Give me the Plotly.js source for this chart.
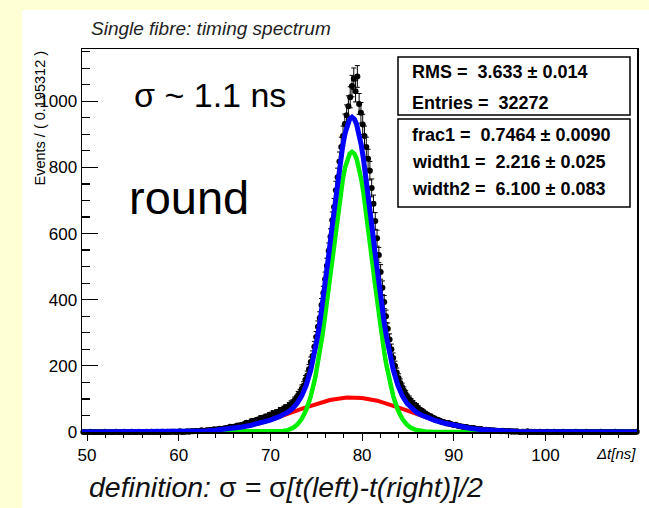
<!DOCTYPE html>
<html>
<head>
<meta charset="utf-8">
<script src="https://cdn.plot.ly/plotly-3.0.1.min.js"></script>
<style>html,body{margin:0;padding:0;background:#ffffd5;}#chart{width:649px;height:508px;}</style>
</head>
<body>
<div id="chart"></div>
<script>
// ---- data ----
const binLow = 49.5;
const binWidth = 0.195312;
const counts = [
0,0,0,0,1,0,0,0,0,0,
0,0,1,0,0,0,0,0,1,0,
0,0,0,1,0,0,0,1,0,0,
0,1,0,0,0,1,0,0,1,0,
0,1,0,0,1,0,0,1,0,1,
1,1,0,1,2,0,1,1,2,1,
2,2,2,3,2,3,5,3,4,5,
5,6,6,8,7,8,10,9,10,11,
12,13,16,15,16,17,20,19,21,22,
24,28,27,29,33,31,35,37,38,42,
40,44,47,45,52,50,57,55,60,58,
66,63,70,74,72,80,85,88,96,101,
112,118,131,140,158,171,190,212,230,258,
287,318,345,384,420,462,503,548,590,640,
680,731,770,818,862,895,931,958,985,1012,
1046,
1068,1030,1075,992,965,930,895,862,826,790,
738,690,638,586,535,484,436,393,350,312,
280,250,224,200,180,163,148,136,125,115,
104,99,92,86,80,77,71,66,63,59,
55,52,48,47,43,41,38,36,34,31,
30,28,26,27,24,23,21,22,19,18,
17,16,14,15,13,12,11,12,10,9,
8,9,7,6,7,5,6,4,5,4,
4,3,2,4,3,2,2,3,1,2,
1,2,1,0,1,1,0,2,0,1,
0,1,0,0,1,0,0,0,1,0,
0,0,1,0,0,0,0,1,0,0,
0,0,0,0,1,0,0,0,0,0,
1,0,0,0,0,0,0,0,1,0,
0,0,0,0,0,0,1,0,0,0,
0,0,0,0,0,0,0,0,1
];

const curveX = [49.45,53.9,56.9,58.9,60.9,61.9,62.9,63.9,64.9,65.9,66.9,67.9,68.9,69.9,70.9,
71.4,71.9,72.4,72.9,73.4,73.9,74.4,
74.9,75.15,75.4,75.65,75.9,76.15,76.4,76.65,76.9,77.15,77.4,77.65,77.9,78.15,78.4,78.65,
78.9,
79.15,79.4,79.65,79.9,80.15,80.4,80.65,80.9,81.15,81.4,81.65,81.9,82.15,82.4,82.65,82.9,
83.4,83.9,84.4,84.9,85.4,85.9,86.4,
86.9,87.9,88.9,89.9,90.9,91.9,92.9,93.9,94.9,95.9,96.9,98.9,100.9,103.9,110];

const narrowGauss = [0,0,0,0,0,0,0,0,0,0,0,0,0,0.2,1.3,
2.8,5.8,11.5,21.7,38.9,66.5,107.8,
166.2,202.4,243.4,289.1,338.8,392.3,448.4,506.0,563.8,620.3,673.9,722.7,765.3,800.1,826.0,841.9,
847.3,
841.9,826.0,800.1,765.3,722.7,673.9,620.3,563.8,506.0,448.4,392.3,338.8,289.1,243.4,202.4,166.2,
107.8,66.5,38.9,21.7,11.5,5.8,2.8,
1.3,0.2,0,0,0,0,0,0,0,0,0,0,0,0,0];

const wideGauss = [0,0.02,0.16,0.49,1.34,2.15,3.35,5.08,7.5,10.79,15.09,20.56,27.26,35.2,44.2,
49.1,54.1,59.2,64.4,69.6,74.7,79.6,
84.3,86.5,88.6,90.7,92.6,94.4,96.1,97.6,99.0,100.3,101.4,102.3,103.1,103.7,104.1,104.4,
104.5,
104.4,104.1,103.7,103.1,102.3,101.4,100.3,99.0,97.6,96.1,94.4,92.6,90.7,88.6,86.5,84.3,
79.6,74.7,69.6,64.4,59.2,54.1,49.1,
44.2,35.2,27.26,20.56,15.09,10.79,7.5,5.08,3.35,2.15,1.34,0.49,0.16,0.02,0];

const totalFit = [0,0.02,0.16,0.49,1.34,2.15,3.35,5.08,7.5,10.79,15.09,20.56,27.26,35.4,45.5,
51.9,59.9,70.7,86.1,108.5,141.2,187.4,
250.5,288.9,332.0,379.8,431.4,486.7,544.5,603.6,662.8,720.6,775.3,825.0,868.4,903.8,930.1,946.3,
951.8,
946.3,930.1,903.8,868.4,825.0,775.3,720.6,662.8,603.6,544.5,486.7,431.4,379.8,332.0,288.9,250.5,
187.4,141.2,108.5,86.1,70.7,59.9,51.9,
45.5,35.4,27.26,20.56,15.09,10.79,7.5,5.08,3.35,2.15,1.34,0.49,0.16,0.02,0];

const xTitle = "Δt[ns]";
const yTitle = "Events / ( 0.195312 )";
const statsTop = ["RMS =&nbsp; 3.633 ± 0.014", "Entries =&nbsp; 32272"];
const statsFit = ["frac1 =&nbsp; 0.7464 ± 0.0090", "width1 =&nbsp; 2.216 ± 0.025", "width2 =&nbsp; 6.100 ± 0.083"];

// ---- build ----
const binCenters = counts.map((_, i) => binLow + (i + 0.5) * binWidth);
const errs = counts.map(v => Math.sqrt(v));

// pixel helpers (plot area: x 82..637, y 49..432)
const L = 82, R = 637, T = 49, B = 432;
const px = p => (p - L) / (R - L);
const py = p => (B - p) / (B - T);
const F = "Liberation Sans, Arial, Helvetica, sans-serif";

const traces = [
  {x: binCenters, y: counts, type: 'scatter', mode: 'markers', cliponaxis: false,
   marker: {color: 'black', size: 6},
   error_y: {type: 'data', array: errs, visible: true, color: 'black', thickness: 1, width: 2.5}},
  {x: curveX, y: wideGauss, type: 'scatter', mode: 'lines', cliponaxis: false,
   line: {color: '#ff0000', width: 4}},
  {x: curveX, y: narrowGauss, type: 'scatter', mode: 'lines', cliponaxis: false,
   line: {color: '#00ee00', width: 4.5}},
  {x: curveX, y: totalFit, type: 'scatter', mode: 'lines', cliponaxis: false,
   line: {color: '#0000ff', width: 5}}
];

const ann = [];
const A = (o) => ann.push(Object.assign({xref: 'paper', yref: 'paper', showarrow: false}, o));
A({x: px(89), y: py(28), xanchor: 'left', yanchor: 'middle', text: '<i>Single fibre: timing spectrum</i>',
   font: {family: F, size: 19, color: '#222'}});
A({x: px(132), y: py(95), xanchor: 'left', yanchor: 'middle', text: 'σ ~ 1.1 ns',
   font: {family: F, size: 34, color: 'black'}});
A({x: px(127), y: py(198), xanchor: 'left', yanchor: 'middle', text: 'round',
   font: {family: F, size: 47, color: 'black'}});
A({x: px(87), y: py(487), xanchor: 'left', yanchor: 'middle',
   text: '<i>definition: </i>σ<i> = </i>σ<i>[t(left)-t(right)]/2</i>',
   font: {family: F, size: 28.5, color: '#111'}});
A({x: px(638), y: py(453), xanchor: 'right', yanchor: 'middle', text: '<i>' + xTitle + '</i>',
   font: {family: F, size: 15, color: 'black'}});
A({x: px(39), y: 1.0, xanchor: 'center', yanchor: 'top', textangle: -90, text: yTitle,
   font: {family: F, size: 14.5, color: 'black'}});
const statY1 = [72, 103], statY2 = [135, 162, 189];
statsTop.forEach((t, i) => A({x: px(410), y: py(statY1[i]), xanchor: 'left', yanchor: 'middle',
   text: '<b>' + t + '</b>', font: {family: F, size: 18, color: 'black'}}));
statsFit.forEach((t, i) => A({x: px(410), y: py(statY2[i]), xanchor: 'left', yanchor: 'middle',
   text: '<b>' + t + '</b>', font: {family: F, size: 18, color: 'black'}}));

const shapes = [
  {type: 'rect', xref: 'paper', yref: 'paper', layer: 'below',
   x0: px(22), x1: px(649), y0: py(508), y1: py(10), fillcolor: 'white', line: {width: 0}},
  {type: 'rect', xref: 'paper', yref: 'paper', layer: 'above',
   x0: px(398), x1: px(630), y0: py(115), y1: py(57), fillcolor: 'white', line: {color: 'black', width: 1.5}},
  {type: 'rect', xref: 'paper', yref: 'paper', layer: 'above',
   x0: px(398), x1: px(630), y0: py(207), y1: py(119), fillcolor: 'white', line: {color: 'black', width: 1.5}}
];

const layout = {
  width: 649, height: 508,
  margin: {l: L, r: 649 - R, t: T, b: 508 - B, pad: 0},
  paper_bgcolor: '#ffffd5', plot_bgcolor: 'white',
  showlegend: false,
  xaxis: {range: [49.45, 109.98], tick0: 50, dtick: 10, ticks: 'outside', ticklen: 7, tickwidth: 1,
          tickcolor: 'black', showline: true, mirror: true, linecolor: 'black', linewidth: 1.5,
          showgrid: false, zeroline: false,
          minor: {tick0: 50, dtick: 2, ticks: 'outside', ticklen: 4, tickcolor: 'black', tickwidth: 1},
          tickfont: {family: F, size: 17, color: 'black'}},
  yaxis: {range: [0, 1158], tick0: 0, dtick: 200, ticks: 'inside', ticklen: 16, tickwidth: 1.2,
          tickcolor: 'black', showline: true, mirror: true, linecolor: 'black', linewidth: 1.5,
          showgrid: false, zeroline: false,
          minor: {tick0: 0, dtick: 50, ticks: 'inside', ticklen: 8, tickcolor: 'black', tickwidth: 1.2},
          tickfont: {family: F, size: 17, color: 'black'}},
  annotations: ann,
  shapes: shapes
};

Plotly.newPlot('chart', traces, layout, {displayModeBar: false, staticPlot: true});
</script>
</body>
</html>
